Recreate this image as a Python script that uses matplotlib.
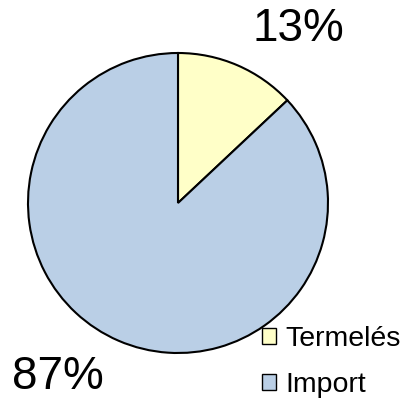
import matplotlib
matplotlib.use('Agg')
from matplotlib import pyplot as plt
from matplotlib.patches import Patch

plt.rcParams['font.family'] = ['Liberation Sans', 'DejaVu Sans']

labels = ["Termelés", "Import"]
shares = [13, 87]
pct_labels = ["13%", "87%"]
colors = ["#FFFFC8", "#BACFE6"]

fig = plt.figure(figsize=(4.08, 4.0), dpi=100)
ax = fig.add_axes([28/408, 47/400, 300/408, 300/400])

ax.pie(shares, colors=colors, startangle=90, counterclock=False, radius=1,
       wedgeprops=dict(edgecolor='black', linewidth=1.5))
ax.set_xlim(-1, 1)
ax.set_ylim(-1, 1)
ax.set_aspect('equal')
ax.axis('off')

# percentage labels outside the pie
fig.text(298/408, 1 - 29/400, pct_labels[0], fontsize=33, ha='center', va='center')
fig.text(58/408, 1 - 377/400, pct_labels[1], fontsize=33, ha='center', va='center')

handles = [Patch(facecolor=c, edgecolor='black', linewidth=1) for c in colors]
fig.legend(handles, labels, loc='center left', bbox_to_anchor=(262/408, 1 - 362/400),
           frameon=False, fontsize=20.5, handlelength=0.49, handleheight=0.49,
           handletextpad=0.32, labelspacing=0.69, borderpad=0, borderaxespad=0)

fig.savefig('out.png', dpi=100)
